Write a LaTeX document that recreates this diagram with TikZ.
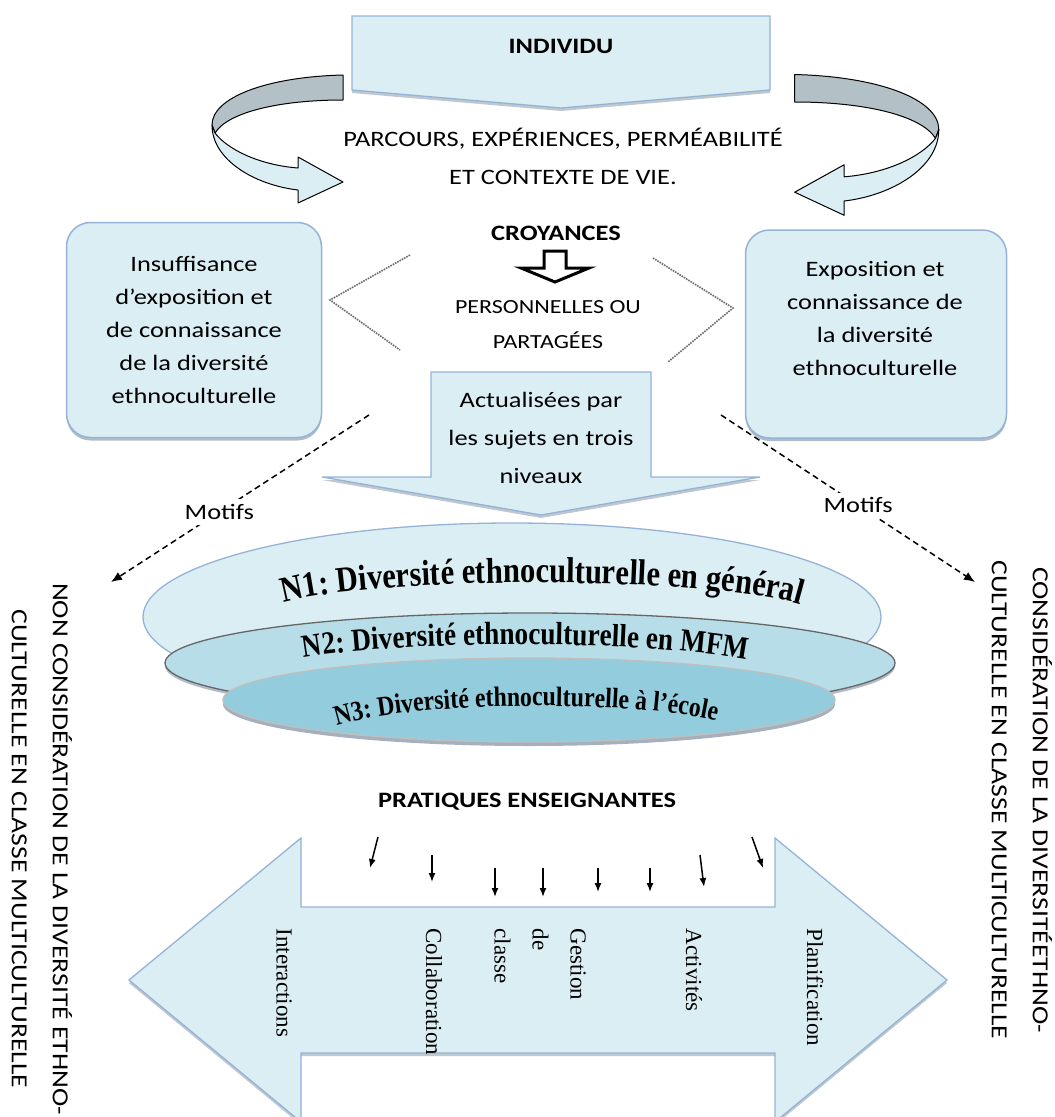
\documentclass[tikz,border=0pt]{standalone}
\usepackage{fontspec}
\setmainfont{Carlito}[FakeStretch=1.2]
\newfontfamily\serifw{Liberation Serif}
\newfontfamily\serifn{Liberation Serif}[FakeStretch=0.85]
\usepackage{tikz}
\usetikzlibrary{positioning}
\usetikzlibrary{shapes.geometric,arrows.meta,shadows,decorations.text}

\definecolor{paleblue}{HTML}{DBEEF4}
\definecolor{edgeblue}{HTML}{95B3D7}
\definecolor{midblue}{HTML}{B7DEE8}
\definecolor{deepblue}{HTML}{93CDDD}
\definecolor{backgray}{HTML}{B3C1C6}
\definecolor{shadowgray}{HTML}{7F8FA0}

\tikzstyle{sidebox} = [rectangle, rounded corners=24pt, draw=edgeblue, fill=paleblue,
    line width=1.5pt, minimum width=255pt, minimum height=215pt,
    drop shadow={shadow xshift=0pt, shadow yshift=-3pt, fill=shadowgray, opacity=0.6}]
\tikzstyle{flatshape} = [draw=edgeblue, fill=paleblue, line width=1.3pt,
    drop shadow={shadow xshift=0pt, shadow yshift=-3pt, fill=shadowgray, opacity=0.5}]
\tikzstyle{ringshape} = [ellipse, inner sep=0pt, line width=1.3pt]
\tikzstyle{dashlink} = [draw, dash pattern=on 6pt off 4pt, line width=1.5pt, -{Latex[length=11pt,width=9pt]}]
\tikzstyle{tickarrow} = [draw, line width=1.5pt, -{Latex[length=9pt,width=7pt]}]
\tikzstyle{wingline} = [draw=gray!85!black, densely dotted, line width=1.6pt]
\tikzstyle{sidelabel} = [rotate=-90, align=center, font=\fontsize{23}{41}\selectfont]
\tikzstyle{barlabel} = [rotate=-90, anchor=west, align=left, font=\serifw\fontsize{23}{38}\selectfont]

\tikzset{curvedarrow/.pic={
    \draw[line width=1pt, line join=round, fill=backgray] (343,75) .. controls (265,77) and (212,98) .. (212,125)
        -- (215,133) .. controls (228,112) and (280,100) .. (343,100) -- cycle;
    \draw[line width=1pt, line join=round, fill=paleblue] (212,125) .. controls (212,160) and (255,185) .. (298,190)
        -- (298,203) -- (343,182) -- (298,157) -- (298,168)
        .. controls (260,165) and (228,150) .. (215,133) -- cycle;
}}

\begin{document}
\fontsize{22}{33}\selectfont
\begin{tikzpicture}[x=1pt, y=-1pt]
    \useasboundingbox (0,0) rectangle (1055,1117);
    % Top
    \draw[flatshape] (352,16) -- (770,16) -- (770,90) -- (561,108) -- (352,90) -- cycle;
    \node[font=\bfseries] (indiv) at (561,46) {INDIVIDU};
    \pic at (0,0) {curvedarrow};
    \pic[xscale=-1.1, yscale=1.1] at (1172,-8) {curvedarrow};
    \node (parc) at (563,139) {PARCOURS, EXPÉRIENCES, PERMÉABILITÉ};
    \node [below of=parc, node distance=38pt] (vie) {ET CONTEXTE DE VIE.};
    % Side boxes
    \node[sidebox, align=center] (insuf) at (194,330) {Insuffisance\\d’exposition et\\de connaissance\\de la diversité\\ethnoculturelle};
    \node[sidebox, minimum width=261pt, minimum height=208pt] (expo) at (876,334) {};
    \node[align=center] (expotxt) at (875,318) {Exposition et\\connaissance de\\la diversité\\ethnoculturelle};
    % Croyances
    \node[font=\bfseries] (croy) at (556,233) {CROYANCES};
    \draw[line width=3pt, line join=miter, fill=white] (544,251) -- (566,251) -- (566,268) -- (589,268)
        -- (555,282) -- (521,268) -- (544,268) -- cycle;
    \node[font=\fontsize{20}{33}\selectfont] (perso) at (548,307) {PERSONNELLES OU};
    \node[font=\fontsize{20}{33}\selectfont, below of=perso, node distance=33pt] (partag) {PARTAGÉES};
    \draw[wingline] (410,255) -- (330,300) -- (400,350);
    \draw[wingline] (653,258) -- (733,308) -- (668,362);
    % Actualisees
    \draw[flatshape] (431,372) -- (651,372) -- (651,477) -- (760,477) -- (541,515) -- (322,477) -- (431,477) -- cycle;
    \node[align=center, font=\fontsize{22}{38}\selectfont] (actu) at (541,438) {Actualisées par\\les sujets en trois\\niveaux};
    % Motifs
    \coordinate (mL) at (369,415);
    \coordinate (cL) at (111,582);
    \coordinate (mR) at (721,415);
    \coordinate (cR) at (975,582);
    \path[dashlink] (mL) -- node[pos=0.58, fill=white, inner sep=5pt] (motifL) {Motifs} (cL);
    \path[dashlink] (mR) -- node[pos=0.54, fill=white, inner sep=5pt] (motifR) {Motifs} (cR);
    % Levels
    \node[ringshape, draw=edgeblue, fill=paleblue, minimum width=738pt, minimum height=188pt] (n1) at (512,617) {};
    \node[ringshape, draw=gray!80!black, fill=midblue, minimum width=730pt, minimum height=100pt,
        drop shadow={shadow xshift=0pt, shadow yshift=-3pt, fill=shadowgray, opacity=0.6}] (n2) at (530,663) {};
    \node[ringshape, draw=gray!50, fill=deepblue, minimum width=612pt, minimum height=84pt,
        drop shadow={shadow xshift=0pt, shadow yshift=-4pt, fill=shadowgray, opacity=0.7}] (n3) at (529,700) {};
    \path[decorate, decoration={text along path, text align=center,
        text={|\serifn\bfseries\fontsize{36}{40}\selectfont|N1: Diversité ethnoculturelle en général}}]
        (268,608) .. controls (340,574) and (742,574) .. (816,610);
    \path[decorate, decoration={text along path, text align=center,
        text={|\serifn\bfseries\fontsize{32}{36}\selectfont|N2: Diversité ethnoculturelle en MFM}}]
        (292,660) .. controls (395,639) and (655,639) .. (758,662);
    \path[decorate, decoration={text along path, text align=center,
        text={|\serifn\bfseries\fontsize{28}{32}\selectfont|N3: Diversité ethnoculturelle à l’école}}]
        (325,730) .. controls (395,699) and (655,699) .. (728,724);
    % Pratiques
    \node[font=\bfseries] (prat) at (527,802) {PRATIQUES ENSEIGNANTES};
    \foreach \i/\xa/\ya/\xb/\yb in {1/378/837/370/868, 2/432/855/432/882, 3/495/868/495/897, 4/543/868/543/897,
        5/598/868/598/892, 6/650/868/650/892, 7/700/855/704/887, 8/752/837/763/868} {
        \coordinate (s\i) at (\xa,\ya);
        \coordinate (e\i) at (\xb,\yb);
        \path[tickarrow] (s\i) -- (e\i);
    }
    \draw[flatshape] (129,980) -- (301,838) -- (301,907) -- (775,907) -- (775,838) -- (947,980)
        -- (775,1122) -- (775,1053) -- (301,1053) -- (301,1122) -- cycle;
    \node[barlabel] (inter) at (284,921) {Interactions};
    \node[barlabel] (collab) at (434,921) {Collaboration};
    \node[barlabel] (gest) at (540,921) {Gestion\\de\\classe};
    \node[barlabel] (activ) at (694,921) {Activités};
    \node[barlabel] (planif) at (815,921) {Planification};
    % Side labels
    \node[sidelabel] (nonconsid) at (42,849) {NON CONSIDÉRATION DE LA DIVERSITÉ ETHNO-\\CULTURELLE EN CLASSE MULTICULTURELLE};
    \node[sidelabel] (consid) at (1022,800) {CONSIDÉRATION DE LA DIVERSITÉETHNO-\\CULTURELLE EN CLASSE MULTICULTURELLE};
\end{tikzpicture}
\end{document}
